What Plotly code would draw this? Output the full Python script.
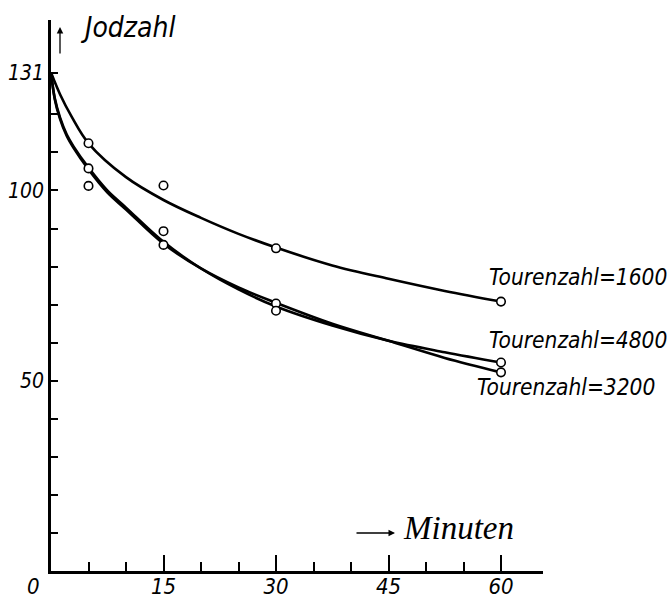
import plotly.graph_objects as go

# ---- data ----
# fitted curves (minutes, Jodzahl)
t_1600 = [0, 1.2, 2.75, 5, 10, 15, 20, 25, 30, 37.5, 45, 52.5, 60]
v_1600 = [131, 125.3, 119.4, 112.4, 103.5, 97.5, 92.8, 88.6, 85.0, 80.3, 76.8, 73.6, 70.8]

t_3200 = [0, 0.5, 1.2, 2.1, 3, 5, 7.5, 10, 15, 20, 25, 30, 37.5, 45, 52.5, 60]
v_3200 = [131, 124, 118.8, 114.3, 111.2, 105.5, 99.5, 95, 86, 79.5, 74.5, 70.5, 65, 60.5, 56, 52.2]

t_4800 = [0, 0.5, 1.2, 2.1, 3, 5, 7.5, 10, 15, 20, 25, 30, 37.5, 45, 52.5, 60]
v_4800 = [131, 124.3, 119.2, 114.7, 111.6, 106, 100, 95.5, 86.5, 79.5, 74, 69.5, 64.5, 60.5, 57.5, 54.8]

# measured points (open circles)
pt_t_1600 = [5, 15, 30, 60]
pt_v_1600 = [112.4, 101.3, 84.8, 70.8]
pt_t_3200 = [5, 15, 30, 60]
pt_v_3200 = [105.8, 85.7, 70.3, 52.2]
pt_t_4800 = [5, 15, 30, 60]
pt_v_4800 = [101.2, 89.3, 68.4, 54.8]

x_major_ticks = [15, 30, 45, 60]
x_major_text = ["15", "30", "45", "60"]
x_minor_ticks = [5, 10, 20, 25, 35, 40, 50, 55]
y_ticks = [10, 20, 30, 40, 50, 60, 70, 80, 90, 100, 110, 120, 131]
y_text = ["", "", "", "", "50", "", "", "", "", "100", "", "", "131"]

curve_labels = ["Tourenzahl=1600", "Tourenzahl=4800", "Tourenzahl=3200"]

# ---- layout geometry (pixels) ----
W, H = 670, 599
L, R, T, B = 51, 543, 20, 571
X_MAX = 65.6
Y_MAX = 144.8


def px(x):
    return (x - L) / (R - L)


def py(y):
    return (B - y) / (B - T)


HAND = "DejaVu Sans Condensed, DejaVu Sans, sans-serif"
SERIF = "Liberation Serif, DejaVu Serif, serif"

fig = go.Figure()

for tt, vv in [(t_1600, v_1600), (t_3200, v_3200), (t_4800, v_4800)]:
    fig.add_trace(go.Scatter(x=tt, y=vv, mode="lines",
                             line=dict(color="black", width=2.6, shape="spline", smoothing=1.0),
                             hoverinfo="skip", showlegend=False))

for tt, vv in [(pt_t_1600, pt_v_1600), (pt_t_3200, pt_v_3200), (pt_t_4800, pt_v_4800)]:
    fig.add_trace(go.Scatter(x=tt, y=vv, mode="markers",
                             marker=dict(symbol="circle", size=8.5, color="white",
                                         line=dict(color="black", width=1.6)),
                             showlegend=False))

fig.update_layout(
    width=W, height=H, autosize=False,
    margin=dict(l=L, r=W - R, t=T, b=H - B, pad=0),
    paper_bgcolor="white", plot_bgcolor="white",
    showlegend=False,
    font=dict(family=HAND, color="black"),
    xaxis=dict(range=[0, X_MAX], showgrid=False, zeroline=False, automargin=False,
               showline=True, linecolor="black", linewidth=3,
               tickmode="array", tickvals=x_major_ticks, ticktext=x_major_text,
               ticks="inside", ticklen=16, tickwidth=2, tickcolor="black",
               ticklabelstandoff=-6,
               tickfont=dict(family=HAND, size=22, style="italic"),
               minor=dict(tickmode="array", tickvals=x_minor_ticks, ticks="inside",
                          ticklen=9, tickwidth=1.5, tickcolor="black", showgrid=False)),
    yaxis=dict(range=[0, Y_MAX], showgrid=False, zeroline=False, automargin=False,
               showline=True, linecolor="black", linewidth=2.5,
               tickmode="array", tickvals=y_ticks, ticktext=y_text,
               ticks="inside", ticklen=7, tickwidth=1.8, tickcolor="black",
               tickfont=dict(family=HAND, size=21, style="italic")),
)

ann = [
    dict(text=curve_labels[0], x=px(578), y=py(277), size=22.5),
    dict(text=curve_labels[1], x=px(578), y=py(340), size=22.5),
    dict(text=curve_labels[2], x=px(566), y=py(387), size=22.5),
    dict(text="Jodzahl", x=px(127), y=py(28), size=28),
    dict(text="0", x=px(33), y=py(586), size=22),
]
for a in ann:
    fig.add_annotation(text=a["text"], x=a["x"], y=a["y"], xref="paper", yref="paper",
                       showarrow=False, xanchor="center", yanchor="middle",
                       font=dict(family=HAND, size=a["size"], style="italic", color="black"))

fig.add_annotation(text="Minuten", x=px(458), y=py(528), xref="paper", yref="paper",
                   showarrow=False, xanchor="center", yanchor="middle",
                   font=dict(family=SERIF, size=33, style="italic", color="black"))
# axis arrows
fig.add_annotation(text="", x=px(395), y=py(533), xref="paper", yref="paper",
                   showarrow=True, ax=-40, ay=0, arrowhead=2, arrowsize=1,
                   arrowwidth=1.3, arrowcolor="black")
fig.add_annotation(text="", x=px(60), y=py(27), xref="paper", yref="paper",
                   showarrow=True, ax=0, ay=28, arrowhead=2, arrowsize=1,
                   arrowwidth=1.3, arrowcolor="black")

fig.write_html("out.html")
